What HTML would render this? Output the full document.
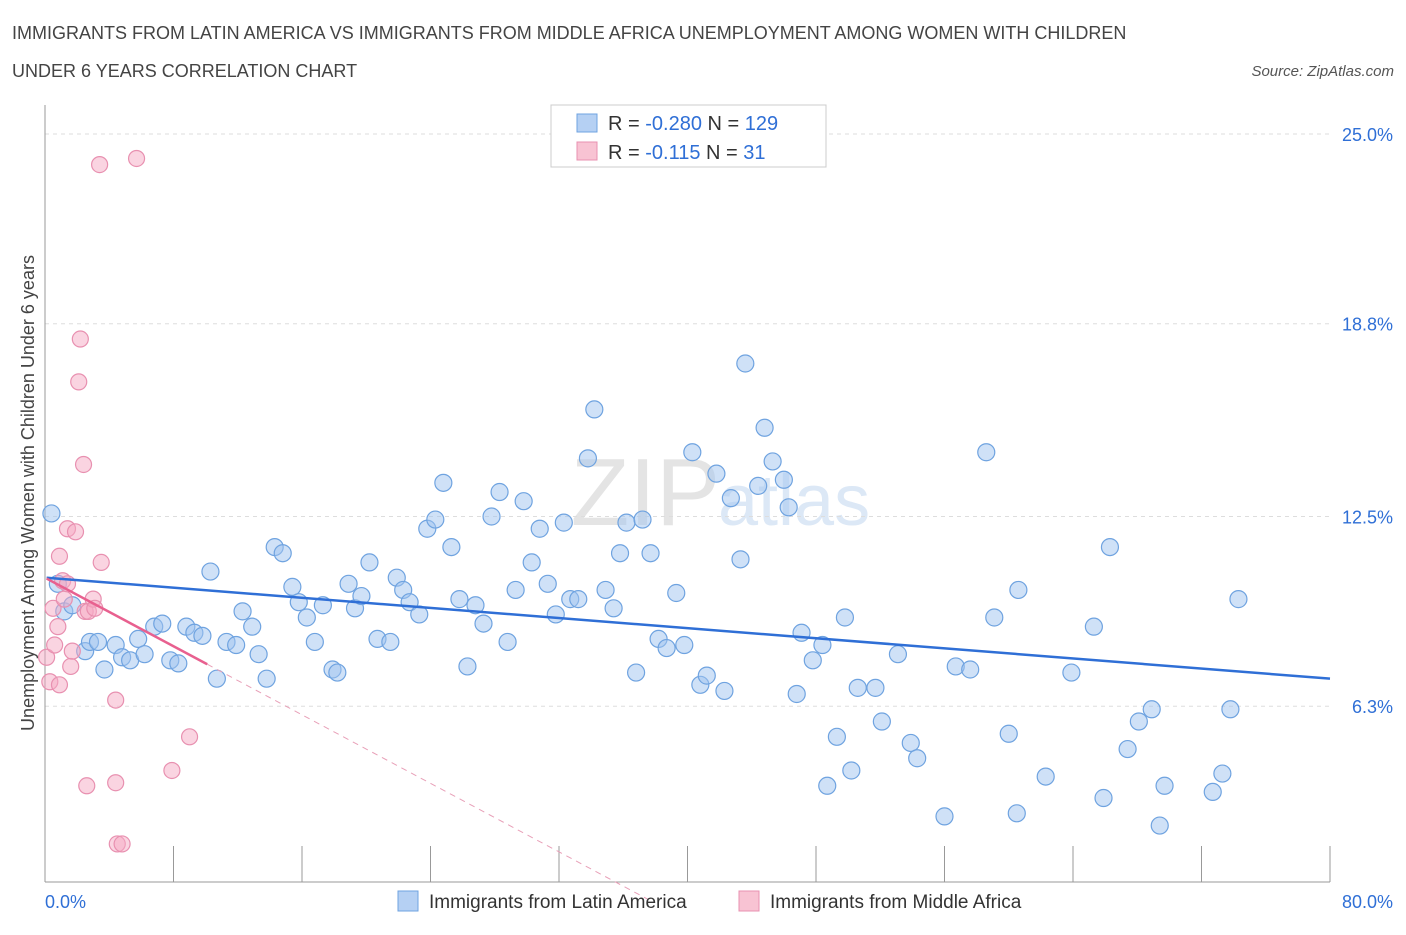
<!DOCTYPE html>
<html><head><meta charset="utf-8"><style>
body{margin:0;background:#fff;font-family:"Liberation Sans",sans-serif;}
svg text{font-family:"Liberation Sans",sans-serif;}
</style></head><body>
<svg id="chart" width="1406" height="930" xmlns="http://www.w3.org/2000/svg">
<text x="12" y="39" font-size="18" fill="#444">IMMIGRANTS FROM LATIN AMERICA VS IMMIGRANTS FROM MIDDLE AFRICA UNEMPLOYMENT AMONG WOMEN WITH CHILDREN</text>
<text x="12" y="77" font-size="18" fill="#444">UNDER 6 YEARS CORRELATION CHART</text>
<text x="1394" y="76" font-size="15" fill="#555" text-anchor="end" font-style="italic">Source: ZipAtlas.com</text>
<text x="720" y="525" font-size="96" fill="#e4e4e4" text-anchor="end" font-family="Liberation Serif">ZIP</text>
<text x="718" y="525" font-size="72" fill="#dce8f6">atlas</text>
<g id="grid"></g><g id="axes"></g><g id="marks"></g>
<text transform="translate(34,493) rotate(-90)" font-size="18" fill="#444" text-anchor="middle">Unemployment Among Women with Children Under 6 years</text>
<g>
<rect x="551" y="105" width="275" height="62" fill="#fff" stroke="#ccc"/>
<rect x="577" y="114" width="20" height="18" fill="#b5d0f3" stroke="#6fa3e0"/>
<rect x="577" y="142" width="20" height="18" fill="#f8c3d3" stroke="#e890b0"/>
<text x="608" y="130" font-size="20" fill="#333">R = <tspan fill="#2f6fd6">-0.280</tspan>    N = <tspan fill="#2f6fd6">129</tspan></text>
<text x="608" y="159" font-size="20" fill="#333">R =  <tspan fill="#2f6fd6"> -0.115</tspan>    N =  <tspan fill="#2f6fd6"> 31</tspan></text>
</g>
<g>
<rect x="398" y="891" width="20" height="20" fill="#b5d0f3" stroke="#6fa3e0"/>
<text x="429" y="908" font-size="19" fill="#333">Immigrants from Latin America</text>
<rect x="739" y="891" width="20" height="20" fill="#f8c3d3" stroke="#e890b0"/>
<text x="770" y="908" font-size="19" fill="#333">Immigrants from Middle Africa</text>
</g>
</svg>
<script>
const yTicks=[6.3,12.5,18.8,25.0];
const yTickLabels=["6.3%","12.5%","18.8%","25.0%"];
const xTickLabels=["0.0%","80.0%"];
const blueX=[0.4,0.8,1.2,1.7,2.5,2.8,3.3,3.7,4.4,4.8,5.3,5.8,6.2,6.8,7.3,7.8,8.3,8.8,9.3,9.8,10.3,10.7,11.3,11.9,12.3,12.9,13.3,13.8,14.3,14.8,15.4,15.8,16.3,16.8,17.3,17.9,18.2,18.9,19.3,19.7,20.2,20.7,21.5,21.9,22.3,22.7,23.3,23.8,24.3,24.8,25.3,25.8,26.3,26.8,27.3,27.8,28.3,28.8,29.3,29.8,30.3,30.8,31.3,31.8,32.3,32.7,33.2,33.8,34.2,34.9,35.4,35.8,36.2,36.8,37.2,37.7,38.2,38.7,39.3,39.8,40.3,40.8,41.2,41.8,42.3,42.7,43.3,43.6,44.4,44.8,45.3,46.0,46.3,46.8,47.1,47.8,48.4,48.7,49.3,49.8,50.2,50.6,51.7,52.1,53.1,53.9,54.3,56.0,56.7,57.6,58.6,59.1,60.0,60.5,60.6,62.3,63.9,65.3,65.9,66.3,67.4,68.1,68.9,69.4,69.7,72.7,73.3,73.8,74.3];
const blueY=[12.6,10.3,9.4,9.6,8.1,8.4,8.4,7.5,8.3,7.9,7.8,8.5,8.0,8.9,9.0,7.8,7.7,8.9,8.7,8.6,10.7,7.2,8.4,8.3,9.4,8.9,8.0,7.2,11.5,11.3,10.2,9.7,9.2,8.4,9.6,7.5,7.4,10.3,9.5,9.9,11.0,8.5,8.4,10.5,10.1,9.7,9.3,12.1,12.4,13.6,11.5,9.8,7.6,9.6,9.0,12.5,13.3,8.4,10.1,13.0,11.0,12.1,10.3,9.3,12.3,9.8,9.8,14.4,16.0,10.1,9.5,11.3,12.3,7.4,12.4,11.3,8.5,8.2,10.0,8.3,14.6,7.0,7.3,13.9,6.8,13.1,11.1,17.5,13.5,15.4,14.3,13.7,12.8,6.7,8.7,7.8,8.3,3.7,5.3,9.2,4.2,6.9,6.9,5.8,8.0,5.1,4.6,2.7,7.6,7.5,14.6,9.2,5.4,2.8,10.1,4.0,7.4,8.9,3.3,11.5,4.9,5.8,6.2,2.4,3.7,3.5,4.1,6.2,9.8];
const pinkX=[0.1,0.3,0.5,0.6,0.8,0.9,1.1,1.2,1.4,1.6,1.7,1.9,2.1,2.2,2.4,2.5,2.7,3.0,3.1,3.5,3.4,4.4,4.4,4.5,4.8,5.7,7.9,9.0,2.6,1.4,0.9];
const pinkY=[7.9,7.1,9.5,8.3,8.9,11.2,10.4,9.8,12.1,7.6,8.1,12.0,16.9,18.3,14.2,9.4,9.4,9.8,9.5,11.0,24.0,6.5,3.8,1.8,1.8,24.2,4.2,5.3,3.7,10.3,7.0];
const blueTrend=[10.5,7.2];
const pinkTrend=[10.5,-0.28];
const X=v=>45+v*1285/80, Y=v=>899-v*30.6;
const NS="http://www.w3.org/2000/svg";
function mk(tag,attrs,parent){const e=document.createElementNS(NS,tag);for(const k in attrs)e.setAttribute(k,attrs[k]);document.getElementById(parent).appendChild(e);return e;}
yTicks.forEach((t,i)=>{
 const g=mk('line',{x1:45,x2:1330,y1:Y(t),y2:Y(t),stroke:'#ddd','stroke-dasharray':'4,4'},'grid');
 
 
 const tx=mk('text',{x:1393,y:Y(t)+7,'font-size':18,fill:'#2f6fd6','text-anchor':'end'},'grid');
 tx.textContent=yTickLabels[i];
 
 
});
mk('line',{x1:45,x2:1330,y1:Y(25),y2:Y(25),stroke:'#ddd','stroke-dasharray':'4,4'},'grid');
const ya=mk('line',{x1:45,x2:45,y1:105,y2:882,stroke:'#999'},'axes');


const xa=mk('line',{x1:45,x2:1330,y1:882,y2:882,stroke:'#999'},'axes');


for(let i=0;i<=10;i++){const t=mk('line',{x1:X(i*8),x2:X(i*8),y1:846,y2:882,stroke:'#999'},'axes');
 
 }
[[0,'start',45],[80,'end',1393]].forEach((d,i)=>{const t=mk('text',{x:d[2],y:908,'font-size':18,fill:'#2f6fd6','text-anchor':d[1]},'axes');t.textContent=xTickLabels[i];
 
 });
blueX.forEach((x,i)=>{const c=mk('circle',{cx:X(x),cy:Y(blueY[i]),r:8.5,fill:'rgba(160,196,240,0.5)',stroke:'#6fa3e0','stroke-width':1.2},'marks');
 
 });
pinkX.forEach((x,i)=>{const c=mk('circle',{cx:X(x),cy:Y(pinkY[i]),r:8,fill:'rgba(245,170,195,0.5)',stroke:'#e890b0','stroke-width':1.2},'marks');
 
 });
const bl=mk('line',{x1:X(0.1),y1:Y(blueTrend[0]),x2:X(80),y2:Y(blueTrend[1]),stroke:'#2f6fd6','stroke-width':2.5},'marks');


const pf=x=>pinkTrend[0]+pinkTrend[1]*x;
const pl=mk('line',{x1:X(0.1),y1:Y(pf(0.1)),x2:X(10.1),y2:Y(pf(10.1)),stroke:'#e8608f','stroke-width':2.5},'marks');


const x0=-pinkTrend[0]/pinkTrend[1];
const pd=mk('line',{x1:X(10.1),y1:Y(pf(10.1)),x2:X(x0),y2:Y(0),stroke:'#e8a0b8','stroke-width':1,'stroke-dasharray':'6,5'},'marks');


</script>
</body></html>
